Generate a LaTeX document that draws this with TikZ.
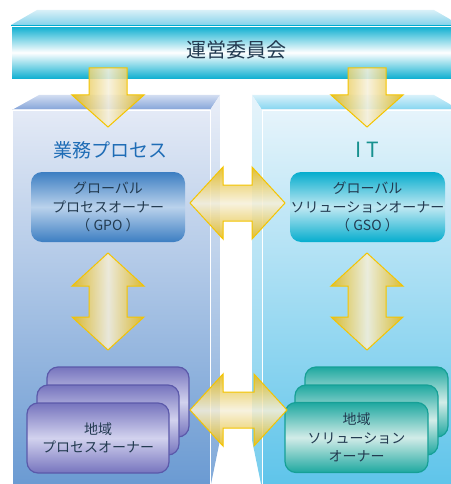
\documentclass[tikz,border=0pt]{standalone}
\usepackage{fontspec}
\newfontfamily\jp{Noto Sans CJK JP}
\definecolor{barcyan}{HTML}{0AAED0}
\definecolor{bartop}{HTML}{D8F0F8}
\definecolor{bartopb}{HTML}{86D2EA}
\definecolor{lpfront}{HTML}{E4EAF6}
\definecolor{lpfrontb}{HTML}{6A9AD2}
\definecolor{lptop}{HTML}{D2DDF1}
\definecolor{lptopb}{HTML}{82A2D8}
\definecolor{rpfront}{HTML}{E6F4FB}
\definecolor{rpfrontb}{HTML}{5EC4EA}
\definecolor{rptop}{HTML}{D8F1FA}
\definecolor{rptopb}{HTML}{82D4F0}
\definecolor{gpoblue}{HTML}{3C7EC2}
\definecolor{gpomid}{HTML}{BAD2EC}
\definecolor{gsocyan}{HTML}{05ADCE}
\definecolor{gsomid}{HTML}{C0E8F2}
\definecolor{lpurple}{HTML}{7674BE}
\definecolor{lpurplemid}{HTML}{D2D2EE}
\definecolor{lpurpledraw}{HTML}{5B59AA}
\definecolor{lteal}{HTML}{1EA8A0}
\definecolor{ltealmid}{HTML}{D2ECE8}
\definecolor{ltealdraw}{HTML}{16A096}
\definecolor{gold}{HTML}{E4B814}
\definecolor{goldlight}{HTML}{F6F0DA}
\definecolor{goldline}{HTML}{F4C400}
\definecolor{txtdark}{HTML}{223A50}
\definecolor{txtblue}{HTML}{1F6DB6}
\definecolor{txtteal}{HTML}{17918F}
\tikzset{
  boxtext/.style={font=\jp\fontsize{14}{18.5}\selectfont, text=txtdark, align=center, inner sep=0pt},
  gpobox/.style={boxtext, rounded corners=11pt, top color=gpoblue, bottom color=gpoblue, middle color=gpomid, minimum width=154pt, minimum height=70pt},
  gsobox/.style={boxtext, rounded corners=11pt, top color=gsocyan, bottom color=gsocyan, middle color=gsomid, minimum width=155pt, minimum height=70pt},
  lpbox/.style={boxtext, rounded corners=11pt, draw=lpurpledraw, line width=1.2pt, top color=lpurple, bottom color=lpurple, middle color=lpurplemid, minimum width=142pt, minimum height=70pt},
  lsbox/.style={boxtext, rounded corners=11pt, draw=ltealdraw, line width=1.2pt, top color=lteal, bottom color=lteal, middle color=ltealmid, minimum width=143pt, minimum height=70pt},
  vgold/.style={draw=goldline, line width=1pt, fill opacity=0.85, left color=gold, right color=gold, middle color=goldlight, line join=miter},
  hgold/.style={draw=goldline, line width=1pt, fill opacity=0.85, top color=gold, bottom color=gold, middle color=goldlight, line join=miter},
  edge/.style={draw=white, line width=0.8pt}
}
% vertical double arrow: centre x, top tip y, bottom tip y
\newcommand\myvdarrow[3]{%
  \path[vgold] (#1,#2) -- (#1+36,#2+33) -- (#1+19,#2+33) -- (#1+19,#3-33) -- (#1+36,#3-33) -- (#1,#3)
    -- (#1-36,#3-33) -- (#1-19,#3-33) -- (#1-19,#2+33) -- (#1-36,#2+33) -- cycle;}
% horizontal double arrow: centre y, left tip x, right tip x
\newcommand\myhdarrow[3]{%
  \path[hgold] (#2,#1) -- (#2+33,#1-36) -- (#2+33,#1-18) -- (#3-33,#1-18) -- (#3-33,#1-36) -- (#3,#1)
    -- (#3-33,#1+36) -- (#3-33,#1+18) -- (#2+33,#1+18) -- (#2+33,#1+36) -- cycle;}
% down arrow: centre x
\newcommand\mydownarrow[1]{%
  \path[vgold] (#1-19,68) -- (#1+19,68) -- (#1+19,95) -- (#1+36,95) -- (#1,127) -- (#1-36,95) -- (#1-19,95) -- cycle;}
\begin{document}
\begin{tikzpicture}[x=1pt,y=-1pt]
\useasboundingbox (0,0) rectangle (450,484);
% top bar
\path[top color=bartop, bottom color=bartopb] (11,25) -- (37,10) -- (434,10) -- (460,25) -- cycle;
\path[edge, top color=barcyan, bottom color=barcyan, middle color=white] (11,26) rectangle (452,79);
% left panel
\path[top color=lptop, bottom color=lptopb] (12,110) -- (39,95) -- (220,95) -- (210,110) -- cycle;
\path[top color=lpfront!80!white, bottom color=lpfrontb!85!white] (210,110) -- (220,95) -- (220,440) -- (211,484) -- (210,484) -- cycle;
\path[edge, top color=lpfront, bottom color=lpfrontb] (12,110) rectangle (210,486);
% right panel
\path[top color=rptop, bottom color=rptopb] (262,110) -- (252,95) -- (434,95) -- (460,110) -- cycle;
\path[top color=rpfront, bottom color=rpfrontb!85!white] (262,110) -- (252,95) -- (252,440) -- (261,484) -- (262,484) -- cycle;
\path[edge, top color=rpfront, bottom color=rpfrontb] (262,110) rectangle (452,486);
% titles
\node[font=\jp\fontsize{20}{24}\selectfont, text=txtdark] (committee) at (236,50) {運営委員会};
\node[font=\jp\fontsize{19}{23}\selectfont, text=txtblue] (bp) at (110,150) {業務プロセス};
\node[font=\jp\fontsize{21}{24}\selectfont, text=txtteal] (it) at (367,150) {I\hspace{5pt}T};
% down arrows
\mydownarrow{108}
\mydownarrow{367}
% global boxes
\node[gpobox] (gpo) at (108,207) {グローバル\\プロセスオーナー\\（ GPO ）};
\node[gsobox] (gso) at (367.5,207) {グローバル\\ソリューションオーナー\\（ GSO ）};
% local process owner stack
\node[lpbox] (lp3) at (118,402) {};
\node[lpbox] (lp2) at (108,420) {};
\node[lpbox] (lp1) at (98,438) {地域\\プロセスオーナー};
% local solution owner stack
\node[lsbox] (ls3) at (376.5,402) {};
\node[lsbox] (ls2) at (366.5,420) {};
\node[lsbox] (ls1) at (356.5,437.5) {地域\\ソリューション\\オーナー};
% connecting arrows
\myhdarrow{203}{190}{285}
\myvdarrow{108}{253}{350}
\myvdarrow{367}{253}{350}
\myhdarrow{410}{190}{287}
\end{tikzpicture}
\end{document}
